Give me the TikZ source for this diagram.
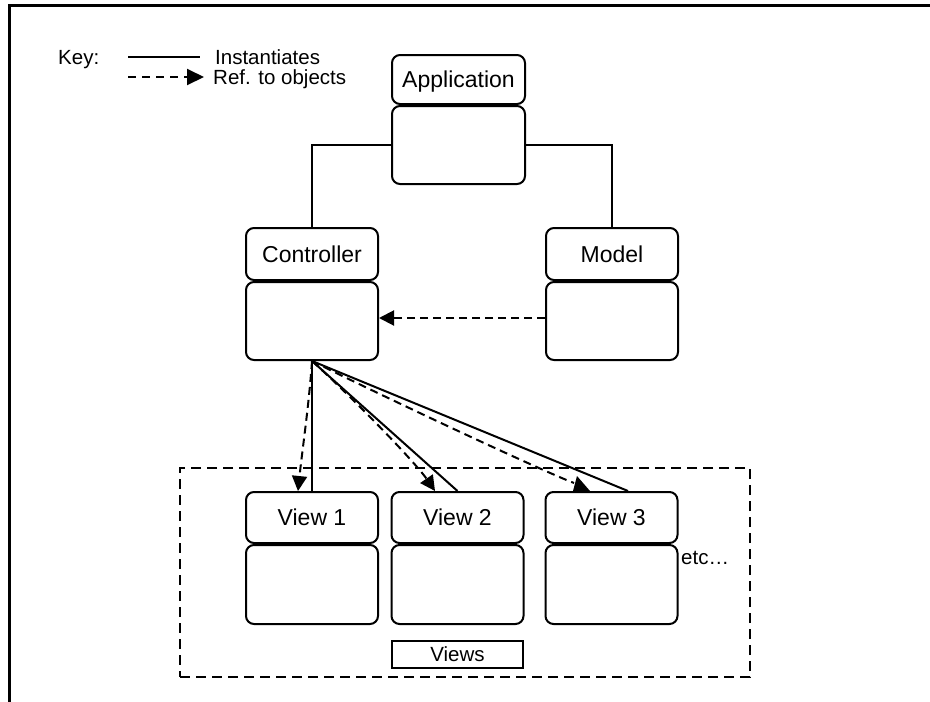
\documentclass[tikz,border=0pt]{standalone}
\usepackage{fontspec}
\setmainfont{Liberation Sans}
\usetikzlibrary{arrows.meta,calc}
\begin{document}
\begin{tikzpicture}[x=1pt,y=-1pt,
  hdr/.style={draw, line width=2pt, rounded corners=8pt, minimum width=132pt, minimum height=51pt, inner sep=0pt, font=\fontsize{23}{27}\selectfont, text height=16.5pt, text depth=0pt},
  body/.style={draw, line width=2pt, rounded corners=8pt, minimum width=132pt, minimum height=79pt, inner sep=0pt},
  inst/.style={line width=2pt},
  refdash/.style={line width=2pt, dash pattern=on 8pt off 5pt},
  refline/.style={refdash, -{Triangle[length=15pt,width=15pt]}},
  keytext/.style={font=\fontsize{20.5}{24}\selectfont, anchor=west, inner sep=0pt, text height=14.7pt, text depth=0pt},
]
\useasboundingbox (0,0) rectangle (930,702);
\fill[white] (0,0) rectangle (930,702);
% frame
\draw[line width=3pt] (9.5,702) -- (9.5,5.5) -- (930,5.5);

% key
\node[keytext] (key) at (58,57) {Key:};
\coordinate (k1a) at (128,57);
\coordinate (k1b) at (200,57);
\draw[inst] (k1a) -- (k1b);
\node[keytext] (kinst) at (215,57) {Instantiates};
\coordinate (k2a) at (128,77);
\coordinate (k2b) at (204,77);
\draw[line width=2pt, dash pattern=on 8pt off 6pt, -{Triangle[length=17pt,width=16pt]}] (k2a) -- (k2b);
\node[keytext] (kref) at (213,77) {Ref. to objects};

% views frame
\node[draw, line width=2pt, dash pattern=on 10pt off 6pt, minimum width=570pt, minimum height=209pt, inner sep=0pt] (vframe) at (465,572.5) {};

% objects
\node[hdr, minimum width=133pt, minimum height=49pt] (apph) at (458.5,79.5) {Application};
\node[body, minimum width=133pt, minimum height=78pt] (appb) at (458.5,145) {};

\node[hdr, minimum height=52pt] (ctrlh) at (312,254) {Controller};
\node[body, minimum height=78pt] (ctrlb) at (312,321) {};

\node[hdr, minimum height=52pt] (modh) at (612,254) {Model};
\node[body, minimum height=78pt] (modb) at (612,321) {};

\node[hdr] (v1h) at (312,517.5) {View 1};
\node[body] (v1b) at (312,584.5) {};
\node[hdr] (v2h) at (457.5,517.5) {View 2};
\node[body] (v2b) at (457.5,584.5) {};
\node[hdr] (v3h) at (611.5,517.5) {View 3};
\node[body] (v3b) at (611.5,584.5) {};

\node[keytext] (etc) at (681,557) {etc…};

\node[draw, line width=2pt, minimum width=131pt, minimum height=27pt, inner sep=0pt, font=\fontsize{20.5}{24}\selectfont, text height=14.7pt, text depth=0pt] (views) at (457.5,654.5) {Views};

% instantiation lines
\draw[inst] (appb.west) -| (ctrlh.north);
\draw[inst] (appb.east) -| (modh.north);
\draw[inst] (ctrlb.south) -- (v1h.north);
\draw[inst] (ctrlb.south) -- (v2h.north);
\draw[inst] (ctrlb.south) -- ([xshift=16.5pt]v3h.north);

% references
\draw[refline] ([yshift=3pt]modb.west) -- ([yshift=3pt]ctrlb.east);
\draw[refline] (ctrlb.south) .. controls (309,405) and (302,452) .. ([xshift=-14pt]v1h.north);
\draw[refline] (ctrlb.south) .. controls (352,397) and (415,462) .. ([xshift=-22.5pt]v2h.north);
\coordinate (v3end) at ($(v3h.north)+(-37.5,-8)$);
\draw[refdash] (ctrlb.south) .. controls (380,395) and (540,470) .. (v3end);
\fill ($(v3h.north)+(-38.5,0)$) -- ($(v3h.north)+(-21.5,0)$) -- ($(v3h.north)+(-34.5,-15)$) -- cycle;
\end{tikzpicture}
\end{document}
